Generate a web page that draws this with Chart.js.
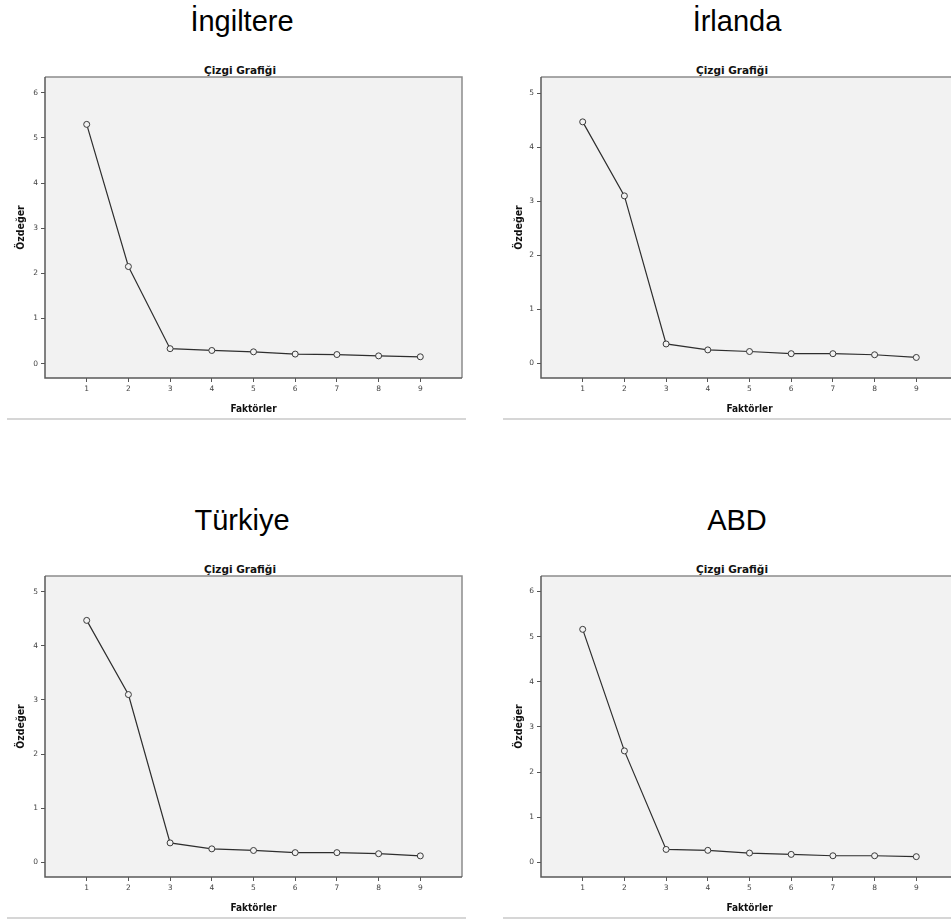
<!DOCTYPE html>
<html lang="tr">
<head>
<meta charset="utf-8">
<title>Çizgi Grafiği</title>
<script src="https://cdn.jsdelivr.net/npm/chart.js@4.4.1/dist/chart.umd.min.js"></script>
<style>
  html, body { margin: 0; padding: 0; background: #fff; }
  #page { position: relative; width: 951px; height: 920px; overflow: hidden; }
  .country {
    position: absolute; width: 480px; text-align: center;
    font: 29px "Liberation Sans", Arial, sans-serif; line-height: 1; color: #000;
  }
  .chart-title {
    position: absolute; width: 480px; text-align: center;
    font: bold 10.5px "DejaVu Sans", sans-serif; line-height: 1; color: #111;
  }
  .sep { position: absolute; height: 2px; background: #d6d6d6; }
  canvas { position: absolute; }
</style>
</head>
<body>
<div id="page"></div>
<script>
// factors on the x axis
const FACTORS = [1, 2, 3, 4, 5, 6, 7, 8, 9];
const X_TICKS = [1, 2, 3, 4, 5, 6, 7, 8, 9];

// eigenvalues
const INGILTERE = [5.3, 2.15, 0.33, 0.29, 0.26, 0.21, 0.2, 0.17, 0.15];
const IRLANDA = [4.47, 3.1, 0.36, 0.25, 0.22, 0.18, 0.18, 0.16, 0.11];
const TURKIYE = [4.47, 3.1, 0.36, 0.25, 0.22, 0.18, 0.18, 0.16, 0.12];
const ABD = [5.16, 2.47, 0.29, 0.27, 0.21, 0.18, 0.15, 0.15, 0.13];

const Y_TICKS_6 = [0, 1, 2, 3, 4, 5, 6];
const Y_TICKS_5 = [0, 1, 2, 3, 4, 5];

const CHART_TITLE = "Çizgi Grafiği";
const X_TITLE = "Faktörler";
const Y_TITLE = "Özdeğer";

const PANELS = [
  { name: "İngiltere", values: INGILTERE, yTicks: Y_TICKS_6, yMin: -0.32, yMax: 6.35, col: 0, row: 0 },
  { name: "İrlanda", values: IRLANDA, yTicks: Y_TICKS_5, yMin: -0.27, yMax: 5.3, col: 1, row: 0 },
  { name: "Türkiye", values: TURKIYE, yTicks: Y_TICKS_5, yMin: -0.27, yMax: 5.29, col: 0, row: 1 },
  { name: "ABD", values: ABD, yTicks: Y_TICKS_6, yMin: -0.32, yMax: 6.34, col: 1, row: 1 },
];

const ROW_OFFSET = 499;
const TICK_COLOR = "#555";

// plot background + frame (spss style)
const framePlugin = {
  id: "frame",
  beforeDraw(chart) {
    const { ctx, chartArea: a } = chart;
    ctx.save();
    ctx.fillStyle = "#f2f2f2";
    ctx.fillRect(a.left, a.top, a.right - a.left, a.bottom - a.top);
    ctx.restore();
  },
  beforeDatasetsDraw(chart) {
    const { ctx, chartArea: a } = chart;
    ctx.save();
    ctx.lineWidth = 1.5;
    ctx.strokeStyle = "#8c8c8c";
    ctx.beginPath();
    ctx.moveTo(a.left, a.top);
    ctx.lineTo(a.right, a.top);
    ctx.lineTo(a.right, a.bottom);
    ctx.stroke();
    ctx.strokeStyle = "#5a5a5a";
    ctx.beginPath();
    ctx.moveTo(a.left, a.top);
    ctx.lineTo(a.left, a.bottom);
    ctx.lineTo(a.right, a.bottom);
    ctx.stroke();
    ctx.restore();
  },
};

function addDiv(page, cls, text, left, top, width) {
  const el = document.createElement("div");
  el.className = cls;
  if (text) el.textContent = text;
  el.style.left = left + "px";
  el.style.top = top + "px";
  if (width) el.style.width = width + "px";
  page.appendChild(el);
  return el;
}

function buildPanel(page, p) {
  const dy = p.row * ROW_OFFSET;
  const baseLeft = p.col === 0 ? 0 : 496;

  addDiv(page, "country", p.name, p.col === 0 ? 2 : 497, 7 + dy);
  addDiv(page, "chart-title", CHART_TITLE, p.col === 0 ? 0 : 492, 65 + dy);
  if (p.col === 0) addDiv(page, "sep", "", 7, 418 + dy, 459);
  else addDiv(page, "sep", "", 503, 418 + dy, 460);

  const canvas = document.createElement("canvas");
  canvas.style.left = baseLeft + "px";
  canvas.style.top = 50 + dy + "px";
  canvas.style.width = "480px";
  canvas.style.height = "365px";
  canvas.width = 480;
  canvas.height = 365;
  page.appendChild(canvas);

  const tickFont = { family: "DejaVu Sans", size: 7.5 };
  const titleFont = { family: "DejaVu Sans Condensed", size: 10.5, weight: "bold" };

  new Chart(canvas.getContext("2d"), {
    type: "line",
    data: {
      datasets: [{
        data: FACTORS.map((f, i) => ({ x: f, y: p.values[i] })),
        borderColor: "#2e2e2e",
        borderWidth: 1.2,
        pointRadius: 3,
        pointBorderWidth: 1,
        pointBorderColor: "#3a3a3a",
        pointBackgroundColor: "#f2f2f2",
        tension: 0,
        fill: false,
      }],
    },
    options: {
      responsive: false,
      animation: false,
      devicePixelRatio: 1,
      layout: { padding: { top: 27, right: 18, left: 0, bottom: 0 } },
      plugins: { legend: { display: false }, title: { display: false }, tooltip: { enabled: false } },
      scales: {
        x: {
          type: "linear",
          min: 0,
          max: 10,
          afterBuildTicks: (s) => { s.ticks = X_TICKS.map((v) => ({ value: v })); },
          afterFit: (s) => { s.height = 37; },
          grid: { display: true, drawOnChartArea: false, drawTicks: true, tickLength: 4, tickColor: TICK_COLOR, tickWidth: 1 },
          border: { display: false },
          ticks: { font: tickFont, color: "#444", padding: 2.5, maxRotation: 0, autoSkip: false },
          title: { display: true, text: X_TITLE, font: { ...titleFont, size: 10 }, color: "#111", padding: { top: 4, bottom: 0 } },
        },
        y: {
          type: "linear",
          min: p.yMin,
          max: p.yMax,
          afterBuildTicks: (s) => { s.ticks = p.yTicks.map((v) => ({ value: v })); },
          afterFit: (s) => { s.width = 45; },
          grid: { display: true, drawOnChartArea: false, drawTicks: true, tickLength: 4, tickColor: TICK_COLOR, tickWidth: 1 },
          border: { display: false },
          ticks: { font: tickFont, color: "#444", padding: 3 },
          title: { display: true, text: Y_TITLE, font: titleFont, color: "#111", padding: { top: p.col === 0 ? 15.4 : 17, bottom: 0 } },
        },
      },
    },
    plugins: [framePlugin],
  });
}

document.addEventListener("DOMContentLoaded", () => {
  const page = document.getElementById("page");
  PANELS.forEach((p) => buildPanel(page, p));
});
</script>
</body>
</html>
